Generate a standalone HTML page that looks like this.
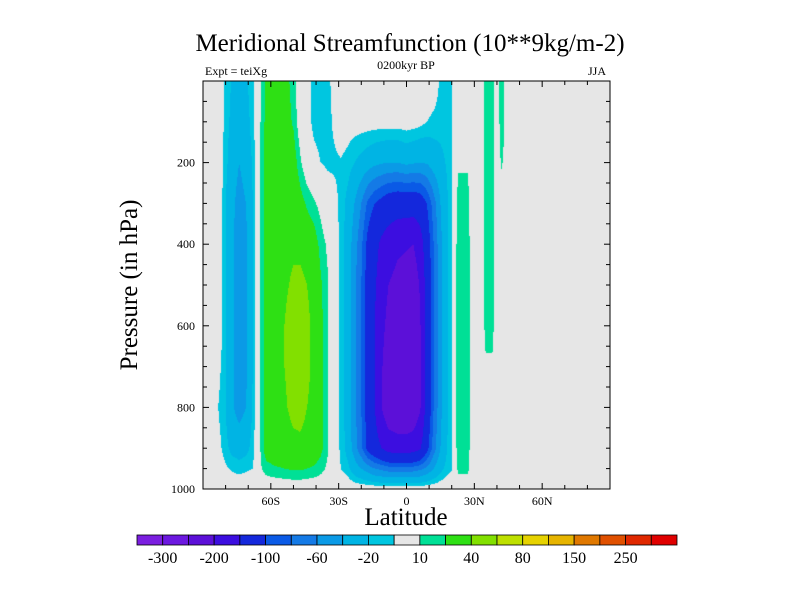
<!DOCTYPE html>
<html><head><meta charset="utf-8">
<style>
body{margin:0;background:#fff;}
#wrap{position:relative;width:800px;height:600px;overflow:hidden;background:#fff;font-family:"Liberation Serif",serif;color:#000;}
.t{position:absolute;white-space:nowrap;}
</style></head>
<body>
<div id="wrap">
<div class="t" style="left:0;width:820px;text-align:center;top:30px;font-size:25px;">Meridional Streamfunction (10**9kg/m-2)</div>
<div class="t" style="left:205px;top:64px;font-size:12px;">Expt = teiXg</div>
<div class="t" style="left:306px;width:200px;text-align:center;top:58px;font-size:12px;">0200kyr BP</div>
<div class="t" style="left:588px;top:64px;font-size:12px;">JJA</div>
<div class="t" style="left:130px;top:285px;font-size:25px;transform:translate(-50%,-50%) rotate(-90deg);">Pressure (in hPa)</div>
<div class="t" style="left:306px;width:200px;text-align:center;top:504px;font-size:25px;">Latitude</div>
<canvas id="cv" width="800" height="600" style="position:absolute;left:0;top:0"></canvas>
<svg id="sv" width="800" height="600" style="position:absolute;left:0;top:0"></svg>
</div>
<script>
const lats=[-90,-86,-83,-80,-77,-74,-71,-68,-66,-64,-62,-58,-54,-50,-47,-44,-41,-38,-35,-32,-29,-26,-23,-20,-17,-14,-11,-8,-4,0,3,6,9,12,15,18,20,21,23,27,29,33,35,38,40,42,45,90];
const levels=[0,100,200,300,400,500,600,700,800,900,950,1000];
const z=[0,0,0,0,0,0,0,0,0,0,0,0];
const field=[
z,z,
[0,0,0,0,0,0,0,-6,-11,-6,-2,0],
[-12,-14,-16,-20,-20,-20,-20,-20,-20,-16,-8,0],
[-22,-25,-30,-35,-38,-38,-38,-38,-38,-25,-12,0],
[-28,-32,-40,-48,-50,-50,-50,-50,-48,-28,-14,0],
[-22,-26,-32,-40,-44,-44,-44,-44,-40,-25,-12,0],
[-14,-15,-18,-20,-20,-20,-20,-20,-18,-15,-10,0],
z,
[12,14,15,15,15,15,15,15,15,15,10,0],
[22,24,26,28,28,28,28,28,28,28,15,0],
[28,30,32,34,36,38,38,38,36,34,18,0],
[26,28,32,34,36,38,40,40,38,34,20,0],
[15,18,28,34,38,42,46,46,44,36,22,0],
[0,2,12,26,36,44,50,50,46,36,22,0],
[-5,-5,0,18,32,40,44,44,40,34,20,0],
[-13,-13,-6,12,28,34,36,36,35,32,18,0],
[-14,-14,-10,6,16,22,24,25,25,24,14,0],
[-14,-14,-12,-2,8,12,12,12,12,12,8,0],
[-5,-8,-12,-6,-3,-3,-3,-3,-3,-3,-3,0],
[0,-2,-11,-13,-13,-13,-13,-13,-13,-12,-10,0],
[0,-4,-14,-25,-28,-28,-28,-28,-28,-26,-16,0],
[0,-4,-20,-40,-50,-55,-55,-55,-55,-50,-30,0],
[0,-4,-25,-60,-75,-80,-80,-80,-80,-75,-40,0],
[0,-4,-30,-85,-110,-115,-115,-115,-115,-110,-50,0],
[0,-4,-35,-100,-135,-145,-150,-150,-150,-130,-60,0],
[0,-4,-38,-110,-160,-175,-185,-195,-200,-150,-65,0],
[0,-4,-40,-120,-175,-200,-215,-235,-235,-170,-70,0],
[0,-4,-40,-125,-190,-215,-235,-245,-245,-175,-70,0],
[0,-3,-35,-125,-195,-225,-240,-250,-248,-175,-70,0],
[0,-4,-38,-125,-200,-230,-240,-245,-240,-170,-70,0],
[0,-6,-40,-120,-175,-195,-205,-210,-205,-155,-65,0],
[0,-10,-38,-100,-120,-130,-130,-130,-130,-110,-55,0],
[-2,-13,-30,-70,-80,-80,-80,-80,-80,-70,-40,0],
[-12,-14,-25,-40,-45,-45,-45,-45,-45,-40,-25,0],
[-14,-14,-18,-22,-22,-22,-22,-22,-22,-20,-15,0],
[-11,-11,-11,-11,-11,-11,-11,-11,-11,-11,-11,0],
z,
[0,0,8,16,18,18,18,18,18,18,14,0],
[0,0,8,16,18,18,18,18,18,18,14,0],
z,z,
[18,18,18,18,18,17,14,8,0,0,0,0],
[18,18,18,18,18,17,14,8,0,0,0,0],
z,
[18,18,12,0,0,0,0,0,0,0,0,0],
z,z];
const bounds=[-300,-250,-200,-150,-100,-80,-60,-40,-20,-10,10,20,40,60,80,100,150,200,250,300];
const colors=["#7b1ee0","#6c18e0","#5c10d8","#3c0ee0","#1428dc","#0a5ae6","#147ae6","#0a9ae6","#00b4e4","#00c6e0","#e6e6e6","#00e096","#2ee014","#82e000","#bee000","#e6d200","#e6b400","#e07800","#e05000","#e02800","#e00000"];
const cbLabels=["-300","-200","-100","-60","-20","10","40","80","150","250"];
const xTickVals=[-60,-30,0,30,60];
const xTickText=["60S","30S","0","30N","60N"];
const yTickVals=[200,400,600,800,1000];

const X0=203,X1=610,Y0=81,Y1=489;
const xs=lat=>X0+(lat+90)/180*(X1-X0);
const ys=p=>Y0+p/1000*(Y1-Y0);
function idx(arr,v){let i=0;while(i<arr.length-2&&arr[i+1]<v)i++;return i;}
function val(lat,p){
  const i=idx(lats,lat),j=idx(levels,p);
  const tx=Math.min(1,Math.max(0,(lat-lats[i])/(lats[i+1]-lats[i])));
  const ty=Math.min(1,Math.max(0,(p-levels[j])/(levels[j+1]-levels[j])));
  const a=field[i][j],b=field[i+1][j],c=field[i][j+1],d=field[i+1][j+1];
  return (a*(1-tx)+b*tx)*(1-ty)+(c*(1-tx)+d*tx)*ty;
}
function colorOf(v){let k=0;while(k<bounds.length&&v>=bounds[k])k++;return colors[k];}
const cv=document.getElementById('cv'),ctx=cv.getContext('2d');
function hex(h){return [parseInt(h.substr(1,2),16),parseInt(h.substr(3,2),16),parseInt(h.substr(5,2),16)];}
const W=X1-X0,H=Y1-Y0;
const img=ctx.createImageData(W,H);
for(let y=0;y<H;y++){for(let x=0;x<W;x++){
  const lat=-90+(x+0.5)/W*180,p=(y+0.5)/H*1000;
  const c=hex(colorOf(val(lat,p)));const o=(y*W+x)*4;
  img.data[o]=c[0];img.data[o+1]=c[1];img.data[o+2]=c[2];img.data[o+3]=255;}}
ctx.putImageData(img,X0,Y0);

const sv=document.getElementById('sv');const NS="http://www.w3.org/2000/svg";
function mk(tag,at,parent){const e=document.createElementNS(NS,tag);for(const k in at)e.setAttribute(k,at[k]);(parent||sv).appendChild(e);return e;}
const frame=mk('rect',{x:X0,y:Y0,width:W,height:H,fill:'none',stroke:'#000','stroke-width':1});


for(let lat=-80;lat<=80;lat+=10){
  const x=xs(lat),L=(lat%30===0)?6:4;
  const t1=mk('line',{x1:x,y1:Y1,x2:x,y2:Y1-L,stroke:'#000'});
  
  
  const t2=mk('line',{x1:x,y1:Y0,x2:x,y2:Y0+L,stroke:'#000'});
  
  
}
for(let p=50;p<1000;p+=50){
  const y=ys(p),L=(p%200===0)?6:4;
  const t1=mk('line',{x1:X0,y1:y,x2:X0+L,y2:y,stroke:'#000'});
  
  
  const t2=mk('line',{x1:X1,y1:y,x2:X1-L,y2:y,stroke:'#000'});
  
  
}
xTickVals.forEach((v,i)=>{
  const t=mk('text',{x:xs(v),y:Y1+16,'text-anchor':'middle','font-size':12,'font-family':'Liberation Serif, serif'});
  t.textContent=xTickText[i];
  
  
});
yTickVals.forEach(v=>{
  const t=mk('text',{x:X0-8,y:ys(v)+4,'text-anchor':'end','font-size':12,'font-family':'Liberation Serif, serif'});
  t.textContent=String(v);
  
  
});
const CB0=137,CB1=677,CBY=535,CBH=10,bw=(CB1-CB0)/colors.length;
colors.forEach((c,i)=>{
  const r=mk('rect',{x:CB0+i*bw,y:CBY,width:bw,height:CBH,fill:c,stroke:'#000','stroke-width':0.8});
  
  
});
cbLabels.forEach((s,i)=>{
  const t=mk('text',{x:CB0+(2*i+1)*bw,y:CBY+28,'text-anchor':'middle','font-size':16,'font-family':'Liberation Serif, serif'});
  t.textContent=s;
  
  
});
</script>
</body></html>
